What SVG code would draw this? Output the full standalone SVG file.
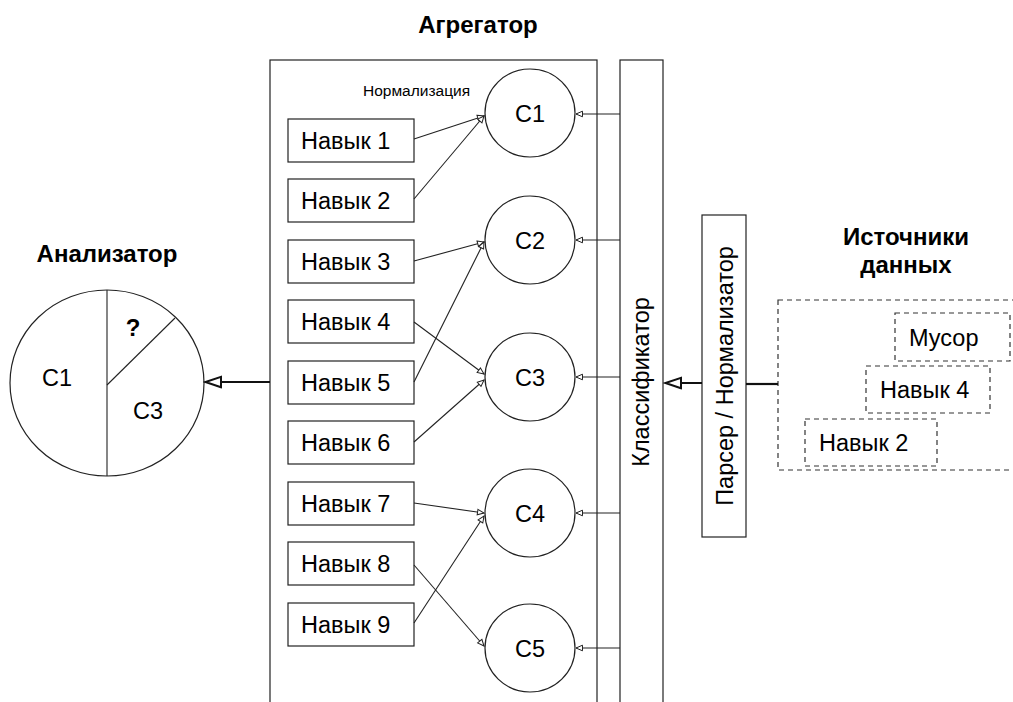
<svg xmlns="http://www.w3.org/2000/svg" width="1013" height="702" viewBox="0 0 1013 702">
<style>
text{font-family:"Liberation Sans",Arial,sans-serif;fill:#000}
.t{font-size:23.5px}
.b{font-size:24px;font-weight:bold}
.s{font-size:15.5px}
.m{text-anchor:middle}
.box{fill:#fff;stroke:#222;stroke-width:1.2}
.dash{fill:none;stroke:#333;stroke-width:1.2;stroke-dasharray:5,4}
.ln{fill:none;stroke:#222;stroke-width:1.1}
.thick{fill:none;stroke:#111;stroke-width:2.2}
</style>
<defs>
<marker id="ah" markerUnits="userSpaceOnUse" markerWidth="10" markerHeight="10" refX="8" refY="5" orient="auto">
<path d="M1.5,2.2 L8,5 L1.5,7.8 Z" fill="#fff" stroke="#222" stroke-width="1"/>
</marker>
<marker id="ahb" markerUnits="userSpaceOnUse" markerWidth="20" markerHeight="14" refX="18" refY="7" orient="auto">
<path d="M2,1.8 L17.5,7 L2,12.2 Z" fill="#fff" stroke="#111" stroke-width="2"/>
</marker>
</defs>
<rect width="1013" height="702" fill="#fff"/>

<g id="titles">
<text class="b m" x="478" y="33">Агрегатор</text>
<text class="b m" x="107" y="262">Анализатор</text>
<text class="b m" x="906" y="245">Источники</text>
<text class="b m" x="906" y="273">данных</text>
</g>

<g id="aggregator">
<rect class="box" x="270" y="60" width="327" height="660"/>
<text class="s" x="363" y="96">Нормализация</text>
</g>

<g id="classifier">
<rect class="box" x="620" y="60" width="43" height="660"/>
<text class="t m" transform="translate(649,382) rotate(-90)">Классификатор</text>
</g>

<g id="parser">
<rect class="box" x="702" y="215" width="44" height="322"/>
<text class="t m" transform="translate(733,376) rotate(-90)">Парсер / Нормализатор</text>
</g>

<g id="analyzer">
<ellipse class="box" cx="107" cy="383" rx="97" ry="93"/>
<line class="ln" x1="107" y1="290" x2="107" y2="476"/>
<line class="ln" x1="107" y1="385" x2="175" y2="318"/>
<text class="t m" x="57" y="386">C1</text>
<text class="t m" x="148" y="419">C3</text>
<text class="b m" x="133" y="336">?</text>
</g>

<g id="skills">
<g id="skill1"><rect class="box" x="288" y="119" width="126" height="43"/><text class="t" x="301" y="149">Навык 1</text></g>
<g id="skill2"><rect class="box" x="288" y="179" width="126" height="43"/><text class="t" x="301" y="209">Навык 2</text></g>
<g id="skill3"><rect class="box" x="288" y="240" width="126" height="43"/><text class="t" x="301" y="270">Навык 3</text></g>
<g id="skill4"><rect class="box" x="288" y="300" width="126" height="43"/><text class="t" x="301" y="330">Навык 4</text></g>
<g id="skill5"><rect class="box" x="288" y="361" width="126" height="43"/><text class="t" x="301" y="391">Навык 5</text></g>
<g id="skill6"><rect class="box" x="288" y="421" width="126" height="43"/><text class="t" x="301" y="451">Навык 6</text></g>
<g id="skill7"><rect class="box" x="288" y="482" width="126" height="43"/><text class="t" x="301" y="512">Навык 7</text></g>
<g id="skill8"><rect class="box" x="288" y="542" width="126" height="43"/><text class="t" x="301" y="572">Навык 8</text></g>
<g id="skill9"><rect class="box" x="288" y="603" width="126" height="43"/><text class="t" x="301" y="633">Навык 9</text></g>
</g>

<g id="categories">
<g id="c1"><ellipse class="box" cx="530" cy="113" rx="45" ry="44"/><text class="t m" x="530" y="122">C1</text></g>
<g id="c2"><ellipse class="box" cx="530" cy="240" rx="45" ry="44"/><text class="t m" x="530" y="249">C2</text></g>
<g id="c3"><ellipse class="box" cx="530" cy="377" rx="45" ry="44"/><text class="t m" x="530" y="386">C3</text></g>
<g id="c4"><ellipse class="box" cx="530" cy="513" rx="45" ry="44"/><text class="t m" x="530" y="522">C4</text></g>
<g id="c5"><ellipse class="box" cx="530" cy="648" rx="45" ry="44"/><text class="t m" x="530" y="657">C5</text></g>
</g>

<g id="sources">
<rect class="dash" x="778" y="300" width="260" height="170"/>
<g id="src-musor"><rect class="dash" x="895" y="313" width="115" height="48"/><text class="t" x="909" y="346">Мусор</text></g>
<g id="src-skill4"><rect class="dash" x="866" y="366" width="124" height="47"/><text class="t" x="880" y="398">Навык 4</text></g>
<g id="src-skill2"><rect class="dash" x="805" y="419" width="132" height="47"/><text class="t" x="819" y="451">Навык 2</text></g>
</g>

<g id="connectors">
<line class="ln" x1="414" y1="139" x2="484" y2="116" marker-end="url(#ah)"/>
<line class="ln" x1="414" y1="199" x2="484" y2="116" marker-end="url(#ah)"/>
<line class="ln" x1="414" y1="261" x2="484" y2="242" marker-end="url(#ah)"/>
<line class="ln" x1="414" y1="382" x2="484" y2="242" marker-end="url(#ah)"/>
<line class="ln" x1="414" y1="322" x2="484" y2="374" marker-end="url(#ah)"/>
<line class="ln" x1="414" y1="442" x2="484" y2="380" marker-end="url(#ah)"/>
<line class="ln" x1="414" y1="503" x2="484" y2="513" marker-end="url(#ah)"/>
<line class="ln" x1="414" y1="623" x2="484" y2="516" marker-end="url(#ah)"/>
<line class="ln" x1="414" y1="565" x2="484" y2="646" marker-end="url(#ah)"/>
<line class="ln" x1="620" y1="114" x2="576" y2="114" marker-end="url(#ah)"/>
<line class="ln" x1="620" y1="240" x2="576" y2="240" marker-end="url(#ah)"/>
<line class="ln" x1="620" y1="377" x2="576" y2="377" marker-end="url(#ah)"/>
<line class="ln" x1="620" y1="513" x2="576" y2="513" marker-end="url(#ah)"/>
<line class="ln" x1="620" y1="648" x2="576" y2="648" marker-end="url(#ah)"/>
<line class="thick" x1="702" y1="383" x2="665" y2="383" marker-end="url(#ahb)"/>
<line class="thick" x1="746" y1="384" x2="778" y2="384"/>
<line class="thick" x1="270" y1="382" x2="205" y2="382" marker-end="url(#ahb)"/>
</g>
</svg>
